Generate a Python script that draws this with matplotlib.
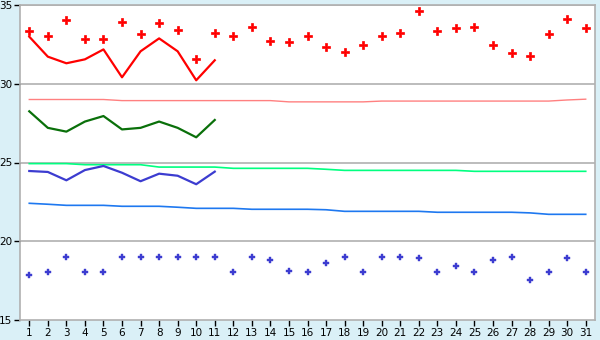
import matplotlib.pyplot as plt

# dagen van de maand
days = list(range(1, 32))

# max temperatuur (punten) en gemeten max (lijn, dag 1-11)
max_points = [33.33, 33.01, 34.03, 32.82, 32.82, 33.9, 33.14, 33.84, 33.39, 31.6,
              33.2, 33.01, 33.58, 32.69, 32.63, 33.01, 32.31, 32.0, 32.44, 33.01,
              33.2, 34.6, 33.33, 33.52, 33.58, 32.44, 31.93, 31.74, 33.14, 34.09, 33.52]
max_line = [32.99, 31.72, 31.3, 31.55, 32.18, 30.41, 32.06, 32.88, 32.06, 30.22, 31.49]
max_normal = [29.0, 29.0, 29.0, 29.0, 29.0, 28.93, 28.93, 28.93, 28.93, 28.93,
              28.93, 28.93, 28.93, 28.93, 28.85, 28.85, 28.85, 28.85, 28.85, 28.9,
              28.9, 28.9, 28.9, 28.9, 28.9, 28.9, 28.9, 28.9, 28.9, 28.97, 29.02]

# gemiddelde
mean_line = [28.25, 27.2, 26.96, 27.6, 27.95, 27.1, 27.2, 27.6, 27.2, 26.6, 27.7]
mean_normal = [24.93, 24.93, 24.93, 24.86, 24.86, 24.86, 24.86, 24.71, 24.71, 24.71,
               24.71, 24.63, 24.63, 24.63, 24.63, 24.63, 24.57, 24.5, 24.5, 24.5,
               24.5, 24.5, 24.5, 24.5, 24.44, 24.44, 24.44, 24.44, 24.44, 24.44, 24.44]

# min temperatuur
min_line = [24.46, 24.4, 23.87, 24.52, 24.78, 24.35, 23.81, 24.29, 24.16, 23.62, 24.42]
min_normal = [22.41, 22.35, 22.28, 22.28, 22.28, 22.22, 22.22, 22.22, 22.16, 22.09,
              22.09, 22.09, 22.03, 22.03, 22.03, 22.03, 22.0, 21.9, 21.9, 21.9,
              21.9, 21.9, 21.84, 21.84, 21.84, 21.84, 21.84, 21.8, 21.71, 21.71, 21.71]
min_points = [17.84, 18.03, 18.98, 18.03, 18.03, 18.98, 18.98, 18.98, 18.98, 18.98,
              18.98, 18.03, 18.98, 18.79, 18.09, 18.03, 18.6, 18.98, 18.03, 18.98,
              18.98, 18.92, 18.03, 18.41, 18.03, 18.79, 18.98, 17.52, 18.03, 18.92, 18.03]

grey = "#b0b0b0"

fig = plt.figure(figsize=(6, 3.4), dpi=100, facecolor="#daf0f7")
ax = fig.add_axes([20 / 600, 20 / 340, 575 / 600, 315 / 340])
ax.set_facecolor("white")

for y in [20, 25, 30, 35]:
    ax.axhline(y, color=grey, lw=1.2, zorder=1)

ax.plot(days, max_normal, color="#ff8080", lw=1.0, zorder=2)
ax.plot(days, mean_normal, color="#00ff80", lw=1.2, zorder=2)
ax.plot(days, min_normal, color="#1e78f0", lw=1.2, zorder=2)

ax.plot(days[:11], max_line, color="#ff0000", lw=1.6, zorder=3)
ax.plot(days[:11], mean_line, color="#0a700a", lw=1.6, zorder=3)
ax.plot(days[:11], min_line, color="#3c3cd0", lw=1.6, zorder=3)

ax.plot(days, max_points, ls="none", marker="P", ms=5.5, color="#ff0000",
        markeredgewidth=0.5, zorder=4)
ax.plot(days, min_points, ls="none", marker="P", ms=4.5, color="#3c3cd0",
        markeredgewidth=0.3, zorder=4)

ax.set_xlim(0.5, 31.5)
ax.set_ylim(15, 35)
ax.set_xticks(days)
ax.set_yticks([15, 20, 25, 30, 35])
ax.tick_params(axis="both", colors="black", labelsize=7.5, length=4, width=1,
               pad=1.5, direction="out")
for s in ax.spines.values():
    s.set_color(grey)
    s.set_linewidth(1.2)

plt.savefig("out.png", dpi=100, facecolor=fig.get_facecolor())
